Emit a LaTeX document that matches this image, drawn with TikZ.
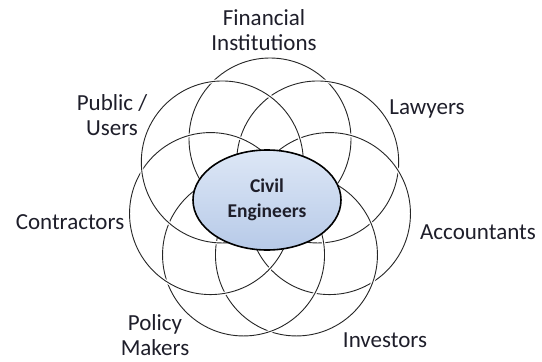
\documentclass[tikz,border=0pt]{standalone}
\usepackage{fontspec}
\setmainfont{Carlito}
\usepackage{xcolor}
\usepackage{tikz}
\usetikzlibrary{shapes.geometric}
\definecolor{ringColor}{HTML}{262626}
\definecolor{labelColor}{HTML}{1E1E2A}
\definecolor{coreTop}{HTML}{DDE7F6}
\definecolor{coreBottom}{HTML}{B7CAE8}

\tikzset{
    ring/.style={circle, minimum size=162pt, inner sep=0pt,
        draw=ringColor, line width=0.9pt,
        preaction={draw=white, line width=3.4pt}},
    party/.style={font=\fontsize{23}{25}\selectfont, text=labelColor, align=center, inner sep=0pt},
    core/.style={ellipse, minimum width=148pt, minimum height=100pt, inner sep=0pt,
        draw=black, line width=1.6pt, top color=coreTop, bottom color=coreBottom,
        font=\fontsize{19.5}{25}\selectfont\bfseries, text=labelColor, align=center}
}

\begin{document}
\begin{tikzpicture}[x=1pt, y=-1pt]
    \useasboundingbox (0,0) rectangle (542,362);
    % seven overlapping rings around the centre
    \foreach \a/\name in {90/fin, 38.57/law, -12.86/acc, -64.29/inv, -115.71/pol, -167.14/con, 141.43/pub}
        \node[ring] (ring-\name) at ({270+61*cos(\a)}, {200-61*sin(\a)}) {};
    \node[core] (civil) at (267,200) {Civil\\Engineers};
    % stakeholder labels
    \node[party] (fin) at (264,30) {Financial\\Institutions};
    \node[party] (pub) at (112,115) {Public /\\Users};
    \node[party] (law) at (427,109) {Lawyers};
    \node[party] (con) at (70,222) {Contractors};
    \node[party] (acc) at (478,232) {Accountants};
    \node[party] (pol) at (155,335) {Policy\\Makers};
    \node[party] (inv) at (385,340) {Investors};
\end{tikzpicture}
\end{document}
